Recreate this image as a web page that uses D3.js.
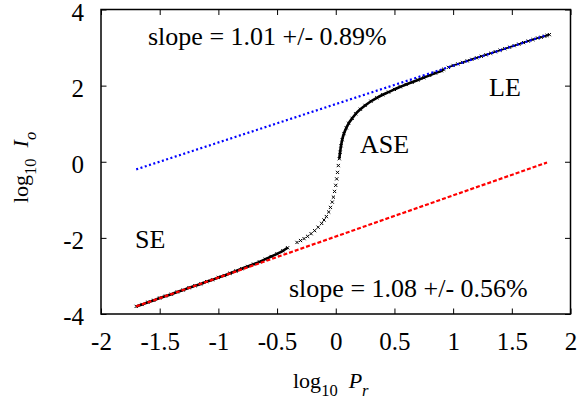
<!DOCTYPE html>
<html>
<head>
<meta charset="utf-8">
<script src="https://cdn.jsdelivr.net/npm/d3@7"></script>
<style>
  body { margin: 0; background: #fff; }
</style>
</head>
<body>
<div id="chart"></div>
<script>
// tick values
const xTicks = [-2, -1.5, -1, -0.5, 0, 0.5, 1, 1.5, 2];
const yTicks = [-4, -2, 0, 2, 4];

// measured points, small-excitation branch (dense)
const lowX = [-1.70, -1.65, -1.60, -1.55, -1.50, -1.45, -1.40, -1.35, -1.30, -1.25, -1.20, -1.15, -1.10, -1.05,
  -1.00, -0.95, -0.90, -0.85, -0.80, -0.75, -0.70, -0.65, -0.60, -0.55, -0.50, -0.45, -0.41];
const lowY = [-3.80, -3.75, -3.69, -3.64, -3.58, -3.53, -3.48, -3.42, -3.37, -3.31, -3.26, -3.21, -3.15, -3.10,
  -3.04, -2.99, -2.93, -2.87, -2.81, -2.75, -2.69, -2.63, -2.56, -2.49, -2.42, -2.34, -2.26];

// ASE transition (sparse crosses)
const midX = [-0.33, -0.30, -0.27, -0.24, -0.21, -0.18, -0.15, -0.12, -0.10, -0.08, -0.06, -0.045, -0.03, -0.02,
  -0.01, 0.00, 0.008, 0.015, 0.022];
const midY = [-2.12, -2.07, -2.02, -1.96, -1.89, -1.81, -1.72, -1.62, -1.53, -1.44, -1.32, -1.20, -1.06, -0.93,
  -0.78, -0.62, -0.45, -0.28, -0.10];

// knee into lasing (dense)
const kneeX = [0.03, 0.037, 0.045, 0.055, 0.07, 0.09, 0.11, 0.14, 0.17, 0.21, 0.25, 0.30, 0.35, 0.40, 0.45, 0.50,
  0.55, 0.60, 0.65, 0.70, 0.75, 0.80, 0.85, 0.90, 0.92];
const kneeY = [0.08, 0.25, 0.42, 0.58, 0.74, 0.89, 1.01, 1.14, 1.26, 1.38, 1.48, 1.59, 1.68, 1.76, 1.83, 1.90,
  1.97, 2.03, 2.09, 2.15, 2.21, 2.27, 2.33, 2.39, 2.43];

// lasing branch
const highX = [0.96, 1.00, 1.04, 1.08, 1.12, 1.16, 1.20, 1.24, 1.28, 1.32, 1.36, 1.40, 1.44, 1.48, 1.52, 1.56,
  1.60, 1.64, 1.68, 1.72, 1.75, 1.78, 1.80, 1.82];
const highY = [2.48, 2.53, 2.57, 2.61, 2.65, 2.69, 2.73, 2.77, 2.81, 2.85, 2.89, 2.93, 2.97, 3.01, 3.05, 3.09,
  3.13, 3.17, 3.21, 3.25, 3.27, 3.30, 3.32, 3.34];

// fitted lines (end points)
const fitLEX = [-1.7, 1.8];
const fitLEY = [-0.2, 3.33];
const fitSEX = [-1.7, 1.8];
const fitSEY = [-3.8, -0.02];

const width = 582;
const height = 402;
const plotL = 101, plotR = 570.5, plotT = 9.5, plotB = 314;
const serif = "'Liberation Serif', 'DejaVu Serif', serif";
const tickSize = 25;
const noteSize = 26;

const x = d3.scaleLinear().domain([-2, 2]).range([plotL, plotR]);
const y = d3.scaleLinear().domain([-4, 4]).range([plotB, plotT]);

const svg = d3.select("#chart")
  .append("svg")
  .attr("width", width)
  .attr("height", height)
  .style("font-family", serif);

// axes, ticks pointing inward on all four sides
const fmt = d => String(d);

svg.append("g")
  .attr("transform", `translate(0,${plotB})`)
  .call(d3.axisBottom(x).tickValues(xTicks).tickFormat(fmt).tickSizeInner(-5.5).tickSizeOuter(0).tickPadding(18))
  .call(g => g.select(".domain").remove())
  .call(g => g.selectAll("text").style("font-size", tickSize + "px").style("font-family", serif).attr("fill", "#000"));

svg.append("g")
  .attr("transform", `translate(0,${plotT})`)
  .call(d3.axisTop(x).tickValues(xTicks).tickFormat("").tickSizeInner(-5.5).tickSizeOuter(0))
  .call(g => g.select(".domain").remove());

svg.append("g")
  .attr("transform", `translate(${plotL},0)`)
  .call(d3.axisLeft(y).tickValues(yTicks).tickFormat(fmt).tickSizeInner(-5.5).tickSizeOuter(0).tickPadding(17))
  .call(g => g.select(".domain").remove())
  .call(g => g.selectAll("text").style("font-size", tickSize + "px").style("font-family", serif)
    .attr("fill", "#000").attr("dy", "0.43em"));

svg.append("g")
  .attr("transform", `translate(${plotR},0)`)
  .call(d3.axisRight(y).tickValues(yTicks).tickFormat("").tickSizeInner(-5.5).tickSizeOuter(0))
  .call(g => g.select(".domain").remove());

svg.selectAll(".tick line").attr("stroke", "#000").attr("stroke-width", 1);

// frame
svg.append("rect")
  .attr("x", plotL).attr("y", plotT)
  .attr("width", plotR - plotL).attr("height", plotB - plotT)
  .attr("fill", "none").attr("stroke", "#000").attr("stroke-width", 1.5);

// data crosses
const toPts = (xs, ys) => xs.map((d, i) => [d, ys[i]]);
const line = d3.line().x(d => x(d[0])).y(d => y(d[1])).curve(d3.curveMonotoneX);

// dense runs of markers read as a thick trace
[toPts(lowX, lowY), toPts(kneeX, kneeY)].forEach(pts => {
  svg.append("path")
    .attr("d", line(pts))
    .attr("fill", "none")
    .attr("stroke", "#000")
    .attr("stroke-width", 2.6);
});
svg.append("path")
  .attr("d", line(toPts(highX, highY)))
  .attr("fill", "none")
  .attr("stroke", "#000")
  .attr("stroke-width", 1.6);

const allPts = toPts(lowX, lowY).concat(toPts(midX, midY), toPts(kneeX, kneeY), toPts(highX, highY));
const s = 1.6;
svg.append("g")
  .selectAll("path")
  .data(allPts)
  .enter().append("path")
  .attr("d", d => {
    const px = x(d[0]), py = y(d[1]);
    return `M${px - s},${py - s}L${px + s},${py + s}M${px - s},${py + s}L${px + s},${py - s}`;
  })
  .attr("stroke", "#000")
  .attr("stroke-width", 1);

// fit lines on top
svg.append("path")
  .attr("d", d3.line().x(d => x(d[0])).y(d => y(d[1]))(toPts(fitLEX, fitLEY)))
  .attr("fill", "none")
  .attr("stroke", "#0000ff")
  .attr("stroke-width", 2.2)
  .attr("stroke-dasharray", "2,2.5");

svg.append("path")
  .attr("d", d3.line().x(d => x(d[0])).y(d => y(d[1]))(toPts(fitSEX, fitSEY)))
  .attr("fill", "none")
  .attr("stroke", "#ff0000")
  .attr("stroke-width", 2.2)
  .attr("stroke-dasharray", "4,2");

// labels inside the plot
function note(tx, ty, str) {
  svg.append("text")
    .attr("x", tx).attr("y", ty)
    .style("font-family", serif)
    .style("font-size", noteSize + "px")
    .text(str);
}
note(148, 45, "slope = 1.01 +/- 0.89%");
note(289, 297, "slope = 1.08 +/- 0.56%");
note(489, 96, "LE");
note(360, 153, "ASE");
note(135, 248, "SE");

// axis titles
const xl = svg.append("text")
  .attr("x", 293).attr("y", 388)
  .style("font-family", serif)
  .style("font-size", "22px");
xl.append("tspan").text("log");
xl.append("tspan").attr("dy", 8).style("font-size", "16.5px").text("10");
xl.append("tspan").attr("dy", -8).attr("dx", 11).style("font-style", "italic").text("P");
xl.append("tspan").attr("dy", 8).style("font-size", "16.5px").style("font-style", "italic").text("r");

const yl = svg.append("text")
  .attr("transform", "translate(28,203) rotate(-90)")
  .style("font-family", serif)
  .style("font-size", "22px");
yl.append("tspan").text("log");
yl.append("tspan").attr("dy", 8).style("font-size", "16.5px").text("10");
yl.append("tspan").attr("dy", -8).attr("dx", 11).style("font-style", "italic").text("I");
yl.append("tspan").attr("dy", 8).style("font-size", "16.5px").style("font-style", "italic").text("o");
</script>
</body>
</html>
